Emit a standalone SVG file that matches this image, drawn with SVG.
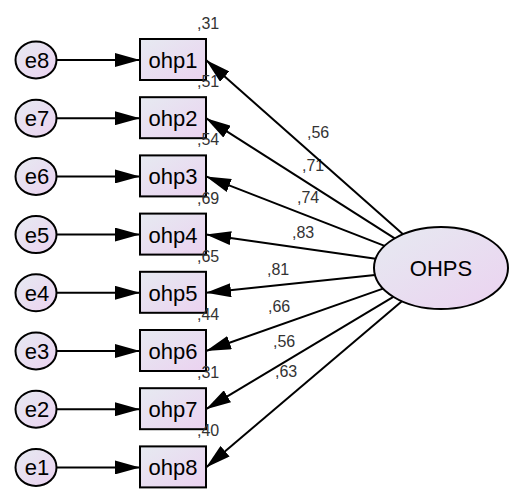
<svg xmlns="http://www.w3.org/2000/svg" width="509" height="495" viewBox="0 0 509 495">
<defs>
<linearGradient id="g" x1="0" y1="0" x2="1" y2="1">
<stop offset="0" stop-color="#e6eaf1"/>
<stop offset="1" stop-color="#ebd2f0"/>
</linearGradient>
<marker id="ah" markerUnits="userSpaceOnUse" markerWidth="26" markerHeight="14" refX="25" refY="7" orient="auto">
<path d="M0,0 L25,7 L0,14 z" fill="#000"/>
</marker>
<style>
.n{fill:url(#g);stroke:#000;stroke-width:2}
.t{font-family:"Liberation Sans",Arial,sans-serif;font-size:22px;fill:#000;text-anchor:middle}
.v{font-family:"Liberation Sans",Arial,sans-serif;font-size:16px;fill:#333}
.c{stroke:#000;stroke-width:2;fill:none;marker-end:url(#ah)}
</style>
</defs>
<rect width="509" height="495" fill="#fff"/>
<g id="e8"><ellipse class="n" cx="36" cy="60" rx="20.5" ry="18.5"/><text class="t" x="37" y="68">e8</text></g>
<g id="e7"><ellipse class="n" cx="36" cy="118.2" rx="20.5" ry="18.5"/><text class="t" x="37" y="126.2">e7</text></g>
<g id="e6"><ellipse class="n" cx="36" cy="176.4" rx="20.5" ry="18.5"/><text class="t" x="37" y="184.4">e6</text></g>
<g id="e5"><ellipse class="n" cx="36" cy="234.6" rx="20.5" ry="18.5"/><text class="t" x="37" y="242.6">e5</text></g>
<g id="e4"><ellipse class="n" cx="36" cy="292.8" rx="20.5" ry="18.5"/><text class="t" x="37" y="300.8">e4</text></g>
<g id="e3"><ellipse class="n" cx="36" cy="351" rx="20.5" ry="18.5"/><text class="t" x="37" y="359">e3</text></g>
<g id="e2"><ellipse class="n" cx="36" cy="409.2" rx="20.5" ry="18.5"/><text class="t" x="37" y="417.2">e2</text></g>
<g id="e1"><ellipse class="n" cx="36" cy="467.4" rx="20.5" ry="18.5"/><text class="t" x="37" y="475.4">e1</text></g>
<g id="ohp1"><rect class="n" x="140" y="39" width="66" height="41"/><text class="t" x="173" y="68">ohp1</text><text class="v" x="197" y="29">,31</text></g>
<g id="ohp2"><rect class="n" x="140" y="97.2" width="66" height="41"/><text class="t" x="173" y="126.2">ohp2</text><text class="v" x="197" y="87.2">,51</text></g>
<g id="ohp3"><rect class="n" x="140" y="155.4" width="66" height="41"/><text class="t" x="173" y="184.4">ohp3</text><text class="v" x="197" y="145.4">,54</text></g>
<g id="ohp4"><rect class="n" x="140" y="213.6" width="66" height="41"/><text class="t" x="173" y="242.6">ohp4</text><text class="v" x="197" y="203.6">,69</text></g>
<g id="ohp5"><rect class="n" x="140" y="271.8" width="66" height="41"/><text class="t" x="173" y="300.8">ohp5</text><text class="v" x="197" y="261.8">,65</text></g>
<g id="ohp6"><rect class="n" x="140" y="330" width="66" height="41"/><text class="t" x="173" y="359">ohp6</text><text class="v" x="197" y="320">,44</text></g>
<g id="ohp7"><rect class="n" x="140" y="388.2" width="66" height="41"/><text class="t" x="173" y="417.2">ohp7</text><text class="v" x="197" y="378.2">,31</text></g>
<g id="ohp8"><rect class="n" x="140" y="446.4" width="66" height="41"/><text class="t" x="173" y="475.4">ohp8</text><text class="v" x="197" y="436.4">,40</text></g>
<g id="OHPS"><ellipse class="n" cx="441" cy="268" rx="67" ry="41"/><text class="t" x="441" y="276">OHPS</text></g>
<g id="path-labels">
<text class="v" x="307" y="138">,56</text>
<text class="v" x="302" y="171">,71</text>
<text class="v" x="297" y="203">,74</text>
<text class="v" x="292" y="238">,83</text>
<text class="v" x="267" y="275">,81</text>
<text class="v" x="268" y="312">,66</text>
<text class="v" x="273" y="347">,56</text>
<text class="v" x="275" y="377">,63</text>
</g>
<g id="connectors">
<line class="c" x1="56.5" y1="60" x2="140" y2="60"/>
<line class="c" x1="56.5" y1="118.2" x2="140" y2="118.2"/>
<line class="c" x1="56.5" y1="176.4" x2="140" y2="176.4"/>
<line class="c" x1="56.5" y1="234.6" x2="140" y2="234.6"/>
<line class="c" x1="56.5" y1="292.8" x2="140" y2="292.8"/>
<line class="c" x1="56.5" y1="351" x2="140" y2="351"/>
<line class="c" x1="56.5" y1="409.2" x2="140" y2="409.2"/>
<line class="c" x1="56.5" y1="467.4" x2="140" y2="467.4"/>
<line class="c" x1="403" y1="234.2" x2="206" y2="60"/>
<line class="c" x1="394.7" y1="238.4" x2="206" y2="118.2"/>
<line class="c" x1="384.6" y1="245.9" x2="206" y2="176.4"/>
<line class="c" x1="375.7" y1="258.7" x2="206" y2="234.6"/>
<line class="c" x1="375" y1="275" x2="206" y2="292.8"/>
<line class="c" x1="383" y1="288.6" x2="206" y2="351"/>
<line class="c" x1="393.3" y1="296.8" x2="206" y2="409.2"/>
<line class="c" x1="401.9" y1="301.3" x2="206" y2="467.4"/>
</g>
</svg>
